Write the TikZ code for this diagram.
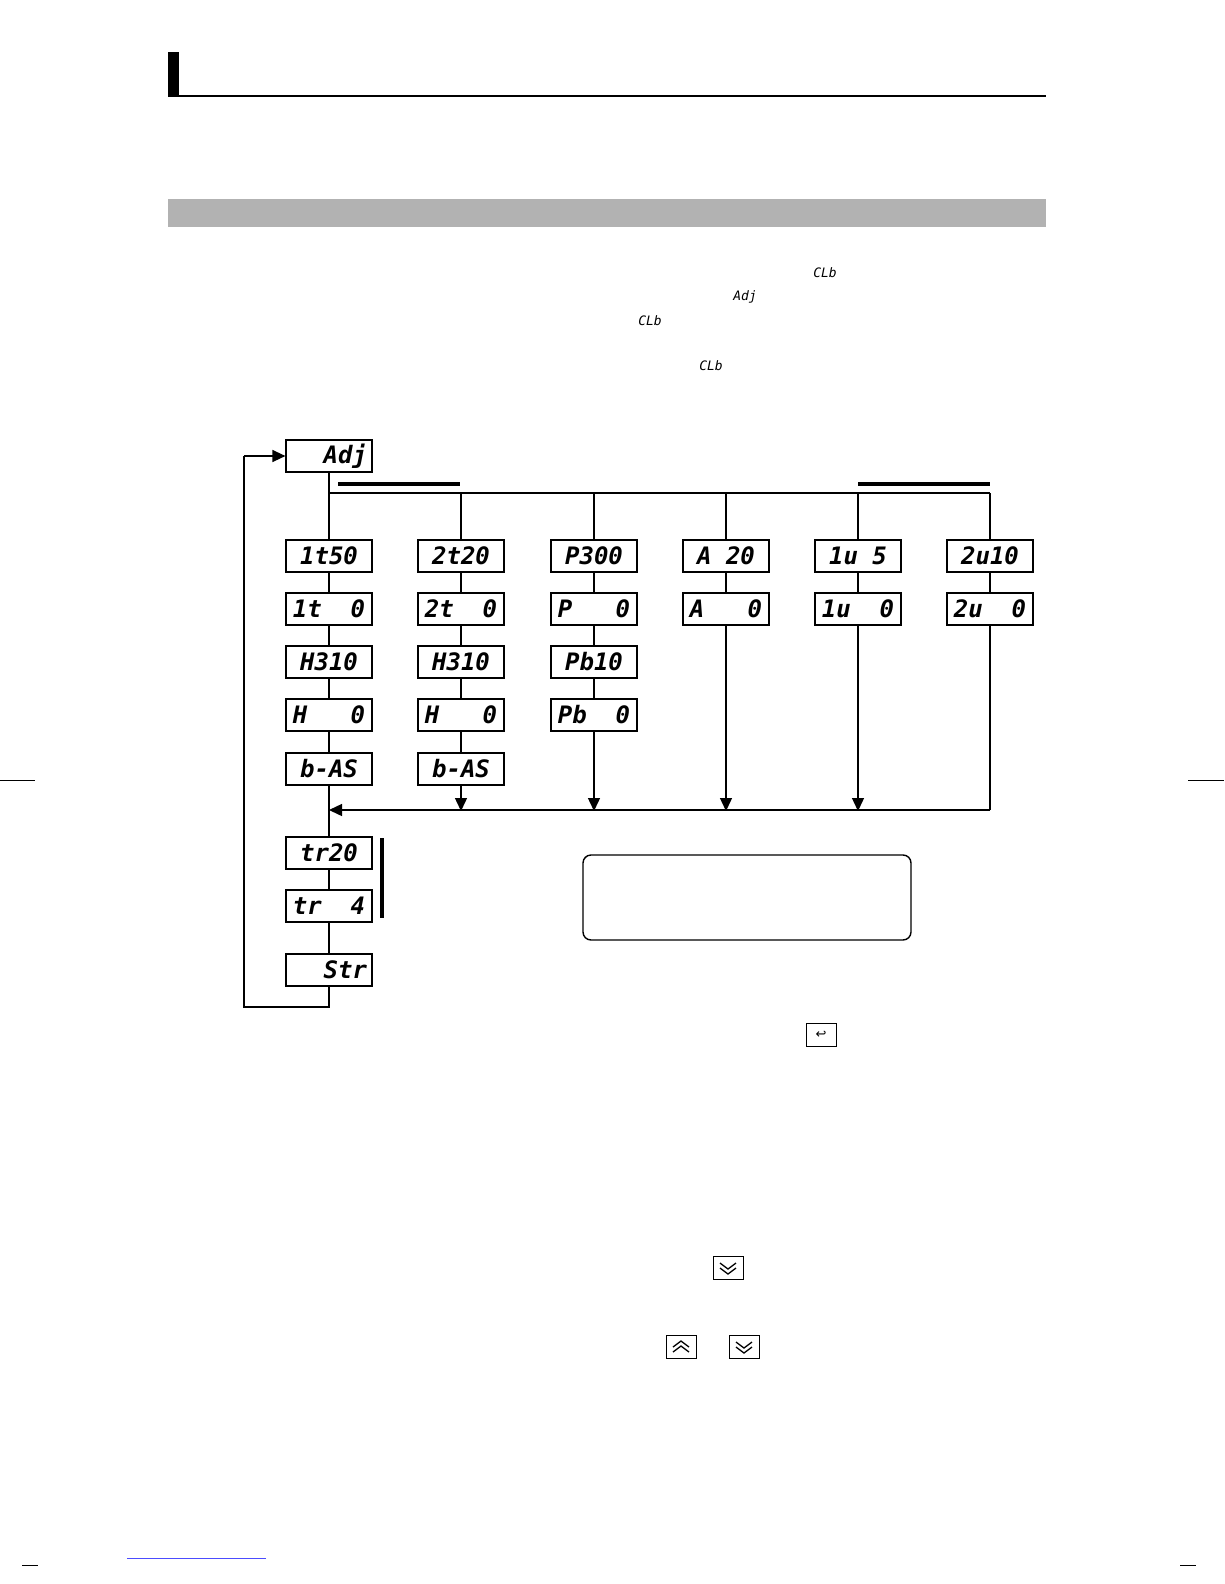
\documentclass[tikz,border=0pt]{standalone}
\usepackage{fontspec}
\newfontfamily\seg{DejaVu Sans Mono}
\newfontfamily\sym{DejaVu Sans}
\usetikzlibrary{arrows.meta}
\begin{document}
\begin{tikzpicture}[x=1pt,y=-1pt,
  disp/.style={draw,line width=1.2pt,minimum width=86pt,minimum height=32pt,inner sep=0pt,font=\seg\bfseries\itshape\fontsize{24}{24}\selectfont},
  ln/.style={line width=1.4pt},
  arr/.style={ln,-{Triangle[length=13pt,width=12pt]}},
  thick bar/.style={line width=4pt},
  tiny/.style={font=\seg\itshape\fontsize{13}{13}\selectfont,inner sep=0pt},
  key/.style={draw,line width=0.8pt,minimum width=30pt,minimum height=23pt,inner sep=0pt,font=\sym\fontsize{13}{13}\selectfont},
  chev/.style={line width=1.3pt}]
\useasboundingbox (0,0) rectangle (1224,1584);
\fill[white] (0,0) rectangle (1224,1584);
% header
\fill (168,52) rectangle (179,96);
\draw[line width=1.5pt] (168,96) -- (1046,96);
\fill[gray!60] (168,199) rectangle (1046,227);
% inline small displays
\node[tiny] (c1) at (825,273) {CLb};
\node[tiny] (c2) at (745,297) {Adj};
\node[tiny] (c3) at (650,321) {CLb};
\node[tiny] (c4) at (711,366) {CLb};
% displays
\node[disp,text width=76pt,align=right] (adj) at (329,456) {Adj};
\foreach \n/\x/\a/\b/\c/\d/\e in {A/329/1t50/1t\ \ 0/H310/H\ \ \ 0/b-AS, B/461/2t20/2t\ \ 0/H310/H\ \ \ 0/b-AS}{
  \node[disp] (\n1) at (\x,556) {\a};
  \node[disp] (\n2) at (\x,609) {\b};
  \node[disp] (\n3) at (\x,662) {\c};
  \node[disp] (\n4) at (\x,715) {\d};
  \node[disp] (\n5) at (\x,769) {\e};
  \draw[ln] (\n1)--(\n2) (\n2)--(\n3) (\n3)--(\n4) (\n4)--(\n5);
}
\node[disp] (C1) at (594,556) {P300};
\node[disp] (C2) at (594,609) {P\ \ \ 0};
\node[disp] (C3) at (594,662) {Pb10};
\node[disp] (C4) at (594,715) {Pb\ \ 0};
\draw[ln] (C1)--(C2) (C2)--(C3) (C3)--(C4);
\node[disp] (D1) at (726,556) {A\ 20};
\node[disp] (D2) at (726,609) {A\ \ \ 0};
\node[disp] (E1) at (858,556) {1u\ 5};
\node[disp] (E2) at (858,609) {1u\ \ 0};
\node[disp] (F1) at (990,556) {2u10};
\node[disp] (F2) at (990,609) {2u\ \ 0};
\draw[ln] (D1)--(D2) (E1)--(E2) (F1)--(F2);
\node[disp] (T1) at (329,853) {tr20};
\node[disp] (T2) at (329,906) {tr\ \ 4};
\node[disp,text width=76pt,align=right] (S) at (329,970) {Str};
\draw[ln] (T1)--(T2) (T2)--(S);
% top bus
\coordinate (bl) at (329,493); \coordinate (br) at (990,493);
\draw[ln] (adj.south) -- (A1.north);
\draw[ln] (bl) -- (br);
\foreach \n/\x in {B/461,C/594,D/726,E/858,F/990} \draw[ln] (\x,493) -- (\n1.north);
\draw[thick bar] (338,484) -- (460,484);
\draw[thick bar] (858,484) -- (990,484);
% bottom bus
\coordinate (q) at (990,810);
\draw[ln] (F2.south) -- (q);
\draw[arr] (q) -- (329,810);
\draw[ln] (A5.south) -- (T1.north);
\draw[arr] (B5.south) -- (461,811);
\draw[arr] (C4.south) -- (594,811);
\draw[arr] (D2.south) -- (726,811);
\draw[arr] (E2.south) -- (858,811);
\draw[thick bar] (382,838) -- (382,918);
% loop
\coordinate (l1) at (329,1007); \coordinate (l2) at (244,1007); \coordinate (l3) at (244,456);
\draw[ln] (S.south) -- (l1) -- (l2) -- (l3);
\draw[arr] (l3) -- (adj.west);
% note box
\node[draw,line width=1.4pt,rounded corners=8pt,minimum width=328pt,minimum height=85pt] (note) at (747,897.5) {};
% keys
\node[key] (k1) at (821,1035) {↩};
\node[key] (k2) at (728,1268) {};
\node[key] (k3) at (681,1347) {};
\node[key] (k4) at (744,1347) {};
\foreach \k in {k2,k4}{
  \draw[chev] ([shift={(-8,-5)}]\k.center) -- ([shift={(0,1)}]\k.center) -- ([shift={(8,-5)}]\k.center);
  \draw[chev] ([shift={(-8,0)}]\k.center) -- ([shift={(0,6)}]\k.center) -- ([shift={(8,0)}]\k.center);
}
\draw[chev] ([shift={(-8,5)}]k3.center) -- ([shift={(0,-1)}]k3.center) -- ([shift={(8,5)}]k3.center);
\draw[chev] ([shift={(-8,0)}]k3.center) -- ([shift={(0,-6)}]k3.center) -- ([shift={(8,0)}]k3.center);
% crop marks
\draw[line width=0.6pt] (0,780)--(35,780) (1188,780)--(1224,780) (22,1565)--(38,1565) (1180,1565)--(1196,1565);
\draw[blue!70,line width=0.6pt] (127,1558)--(266,1558);
\end{tikzpicture}
\end{document}
